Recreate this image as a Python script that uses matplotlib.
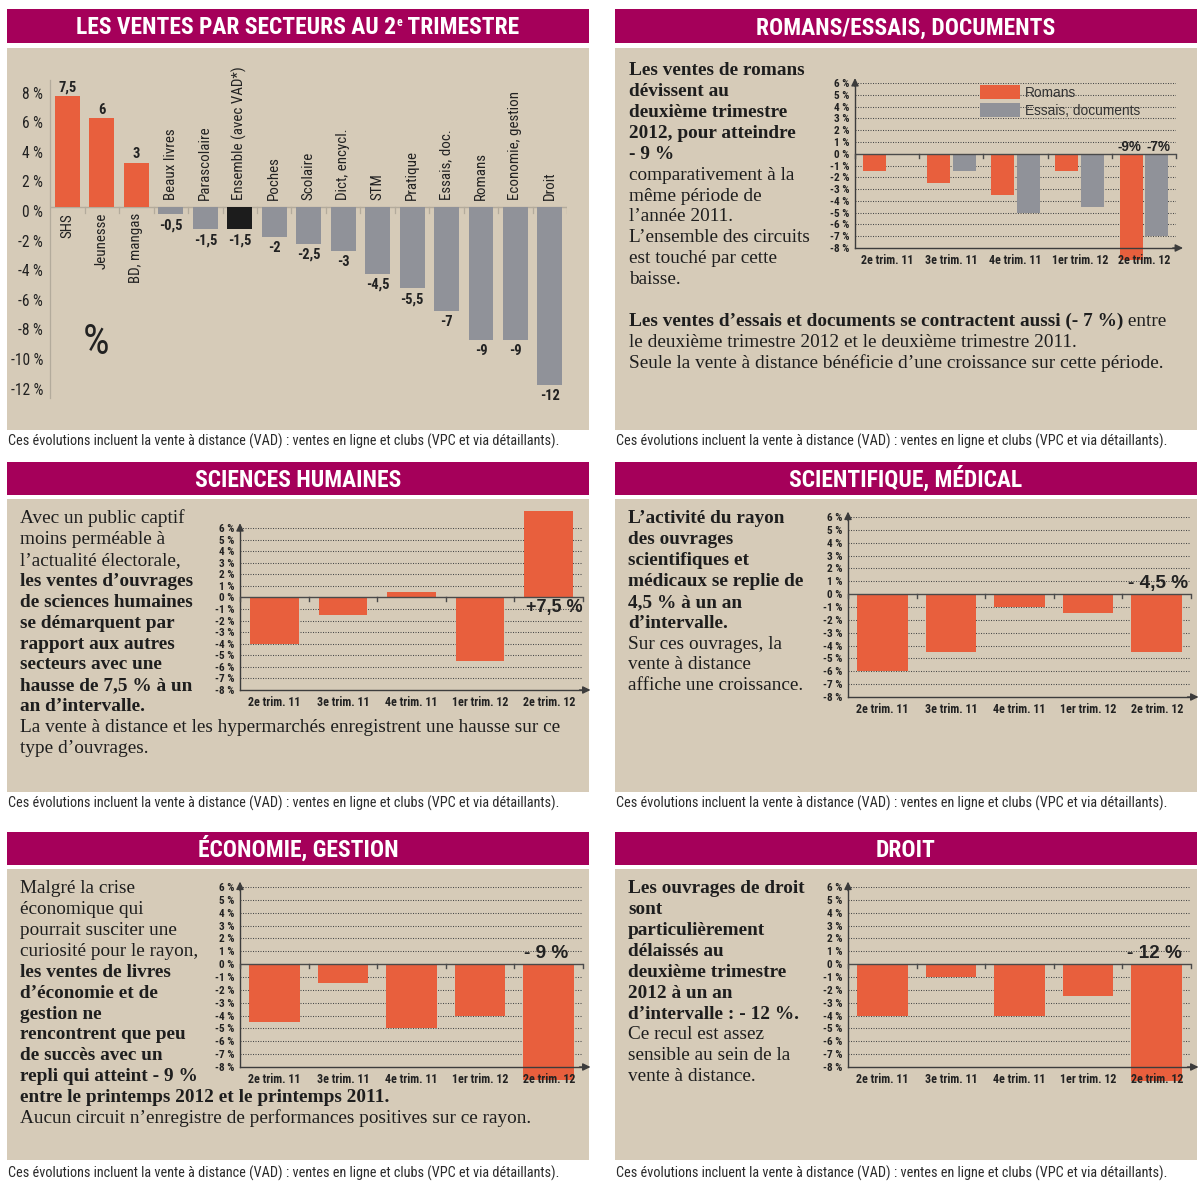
import matplotlib
matplotlib.use('Agg')
import matplotlib.pyplot as plt
import matplotlib.transforms as mtransforms
from matplotlib import font_manager
from matplotlib.patches import Rectangle, Patch

W, H = 1200, 1185
fig = plt.figure(figsize=(W / 100, H / 100), dpi=100)
fig.patch.set_facecolor('white')

_names = {f.name for f in font_manager.fontManager.ttflist}


def pick(cands, default='DejaVu Sans'):
    for c in cands:
        if c in _names:
            return c
    return default


COND = pick(['Liberation Sans Narrow', 'Roboto Condensed', 'DejaVu Sans Condensed', 'Open Sans Condensed'])
SANS = pick(['Liberation Sans', 'Arial', 'DejaVu Sans'])
SERIF = pick(['Liberation Serif', 'DejaVu Serif'])

MAGENTA = '#a5005a'
BEIGE = '#d6cbb8'
ORANGE = '#e85f3d'
GRAY = '#909299'
BLACK = '#1c1c1c'
INK = '#222222'

# ---------------- data ----------------
sectors = ['SHS', 'Jeunesse', 'BD, mangas', 'Beaux livres', 'Parascolaire',
           'Ensemble (avec VAD*)', 'Poches', 'Scolaire', 'Dict, encycl.', 'STM',
           'Pratique', 'Essais, doc.', 'Romans', 'Economie, gestion', 'Droit']
sector_values = [7.5, 6, 3, -0.5, -1.5, -1.5, -2, -2.5, -3, -4.5, -5.5, -7, -9, -9, -12]
main_yticks = [8, 6, 4, 2, 0, -2, -4, -6, -8, -10, -12]

quarters = ['2e trim. 11', '3e trim. 11', '4e trim. 11', '1er trim. 12', '2e trim. 12']
small_yticks = [6, 5, 4, 3, 2, 1, 0, -1, -2, -3, -4, -5, -6, -7, -8]
romans = [-1.5, -2.5, -3.5, -1.5, -9]
essais_documents = [0, -1.5, -5, -4.5, -7]
sciences_humaines = [-4, -1.5, 0.5, -5.5, 7.5]
scientifique_medical = [-6, -4.5, -1, -1.5, -4.5]
economie_gestion = [-4.5, -1.5, -5, -4, -9]
droit = [-4, -1, -4, -2.5, -12]

FOOTNOTE = 'Ces évolutions incluent la vente à distance (VAD) : ventes en ligne et clubs (VPC et via détaillants).'

# ---------------- canvas in pixel coords ----------------
bg = fig.add_axes([0, 0, 1, 1])
bg.set_xlim(0, W)
bg.set_ylim(H, 0)
bg.axis('off')
renderer = fig.canvas.get_renderer()


def pt(px):
    return px * 72.0 / 100.0


def seg_line(x, yc, segs, family, color=INK, center=False, k=0.33):
    """segs: list of (text, weight, size_px, dy_px)"""
    texts = []
    for s, w, size, dy in segs:
        t = bg.text(0, yc + k * segs[0][2] + dy, s, fontsize=pt(size), family=family,
                    fontweight=w, color=color, ha='left', va='baseline', zorder=5)
        texts.append(t)
    widths = [t.get_window_extent(renderer).width for t in texts]
    cx = x - sum(widths) / 2.0 if center else x
    for t, wd in zip(texts, widths):
        t.set_x(cx)
        cx += wd
    return texts


def px_axes(x0, y0, x1, y1):
    return fig.add_axes([x0 / W, 1 - y1 / H, (x1 - x0) / W, (y1 - y0) / H])


# ---------------- panels (header, background, footnote) ----------------
COLS = [(7, 589), (615, 1197)]
ROWS = [(9, 43, 48, 430, 441), (462, 495, 499, 792, 803), (832, 865, 869, 1160, 1173)]
TITLES = [[None, 'ROMANS/ESSAIS, DOCUMENTS'],
          ['SCIENCES HUMAINES', 'SCIENTIFIQUE, MÉDICAL'],
          ['ÉCONOMIE, GESTION', 'DROIT']]
TSIZE = 23.5
for r, (hy0, hy1, by0, by1, fy) in enumerate(ROWS):
    for c, (x0, x1) in enumerate(COLS):
        bg.add_patch(Rectangle((x0, hy0), x1 - x0, hy1 - hy0, facecolor=MAGENTA, edgecolor='none', zorder=1))
        bg.add_patch(Rectangle((x0, by0), x1 - x0, by1 - by0, facecolor=BEIGE, edgecolor='none', zorder=1))
        seg_line(x0 + 1, fy, [(FOOTNOTE, 'normal', 14.3, 0)], COND, color='#2a2a2a')
        cx = (x0 + x1) / 2.0
        cy = (hy0 + hy1) / 2.0
        if r == 0 and c == 0:
            seg_line(cx, cy, [('LES VENTES PAR SECTEURS AU 2', 'bold', TSIZE, 0),
                              ('e', 'bold', TSIZE * 0.5, -TSIZE * 0.36),
                              (' TRIMESTRE', 'bold', TSIZE, 0)],
                     COND, color='white', center=True, k=0.36)
        else:
            seg_line(cx, cy, [(TITLES[r][c], 'bold', TSIZE, 0)], COND, color='white', center=True, k=0.36)

# ---------------- main chart ----------------
ZERO_PX, UNIT_PX = 207.0, 14.8
AX_TOP, AX_BOT = 80.0, 398.0
axm = px_axes(50, AX_TOP, 567, AX_BOT)
axm.set_xlim(-0.508, 14.496)
axm.set_ylim(-(AX_BOT - ZERO_PX) / UNIT_PX, (ZERO_PX - AX_TOP) / UNIT_PX)
axm.patch.set_visible(False)
for s in ['top', 'right', 'bottom']:
    axm.spines[s].set_visible(False)
axm.spines['left'].set_color('#b3ab9c')
axm.spines['left'].set_linewidth(0.9)
axm.axhline(0, color='#b3ab9c', lw=1.0, zorder=1)
for b in range(len(sectors)):
    axm.plot([b + 0.5, b + 0.5], [0, -0.4], color='#b3ab9c', lw=0.9, zorder=1)

xs = list(range(len(sectors)))
colors = [BLACK if name.startswith('Ensemble') else (ORANGE if v > 0 else GRAY)
          for name, v in zip(sectors, sector_values)]
axm.bar(xs, sector_values, 0.725, color=colors, zorder=2)

axm.set_yticks(main_yticks)
axm.set_yticklabels([f'{v} %' for v in main_yticks])
axm.set_xticks([])
axm.tick_params(axis='y', length=0, pad=5, labelsize=pt(15.5), labelcolor=INK)
off = mtransforms.ScaledTranslation(0, -4 / 100.0, fig.dpi_scale_trans)
for lbl in axm.get_yticklabels():
    lbl.set_fontfamily(COND)
    lbl.set_transform(lbl.get_transform() + off)

for i, (name, v) in enumerate(zip(sectors, sector_values)):
    lab = f'{v:g}'.replace('.', ',')
    if v > 0:
        axm.annotate(lab, (i, v), xytext=(0, 1.5), textcoords='offset pixels', ha='center', va='bottom',
                     fontsize=pt(14.5), fontweight='bold', family=COND, color=INK)
        axm.annotate(name, (i, 0), xytext=(0, -6), textcoords='offset pixels', ha='center', va='top',
                     rotation=90, fontsize=pt(15), family=COND, color=INK)
    else:
        axm.annotate(lab, (i, v), xytext=(0, -4), textcoords='offset pixels', ha='center', va='top',
                     fontsize=pt(14.5), fontweight='bold', family=COND, color=INK)
        axm.annotate(name, (i, 0), xytext=(0, 7), textcoords='offset pixels', ha='center', va='bottom',
                     rotation=90, fontsize=pt(15), family=COND, color=INK)

bg.text(96, 342, '%', fontsize=pt(42), family=COND, color=INK, ha='center', va='center', zorder=5)


# ---------------- small charts ----------------
def small_chart(x0, x1, y6, y8, series, colors, offsets, width):
    ax = px_axes(x0, y6, x1, y8)
    ax.set_xlim(-0.5, 4.5)
    ax.set_ylim(-8, 6)
    ax.patch.set_visible(False)
    ax.set_axisbelow(False)
    for s in ['top', 'right']:
        ax.spines[s].set_visible(False)
    for s in ['left', 'bottom']:
        ax.spines[s].set_color('#3c3c3c')
        ax.spines[s].set_linewidth(1.0)
    for v in small_yticks:
        if v not in (0, -8):
            ax.axhline(v, color='#4a4a4a', lw=0.75, ls=(0, (1, 1.4)), zorder=1)
    ax.axhline(0, color='#4a4a4a', lw=1.0, zorder=3)
    for b in range(6):
        ax.plot([b - 0.5, b - 0.5], [0, -0.33], color='#4a4a4a', lw=1.0, zorder=3, clip_on=False)
    clip = Rectangle((-0.6, -9.1), 5.2, 17.5, transform=ax.transData)
    for vals, col, o in zip(series, colors, offsets):
        bars = ax.bar([i + o for i in range(5)], vals, width, color=col, zorder=2)
        for bar in bars:
            bar.set_clip_path(clip)
    ax.set_yticks(small_yticks)
    ax.set_yticklabels([f'{v} %' for v in small_yticks])
    ax.set_xticks(range(5))
    ax.set_xticklabels(quarters)
    ax.tick_params(axis='both', length=0, labelcolor=INK)
    ax.tick_params(axis='y', pad=4, labelsize=pt(11.3))
    ax.tick_params(axis='x', pad=4, labelsize=pt(12))
    for lbl in ax.get_xticklabels() + ax.get_yticklabels():
        lbl.set_fontfamily(COND)
        lbl.set_fontweight('bold')
    aw = dict(arrowstyle='-|>,head_length=0.45,head_width=0.22', color='#3c3c3c', lw=1.0,
              shrinkA=0, shrinkB=0)
    ax.annotate('', xy=(0, 1.03), xytext=(0, 0.98), xycoords='axes fraction', arrowprops=aw)
    ax.annotate('', xy=(1.022, 0), xytext=(0.99, 0), xycoords='axes fraction', arrowprops=aw)
    return ax


# Romans / Essais
ax2 = small_chart(855, 1176, 83, 248, [romans, essais_documents], [ORANGE, GRAY], [-0.2, 0.2], 0.36)
for o, vals, dx in [(-0.2, romans, -2), (0.2, essais_documents, 2)]:
    ax2.annotate(f'{vals[-1]:g}%', (4 + o, 0), xytext=(dx, 7), textcoords='offset pixels',
                 ha='center', va='center', fontsize=pt(13.5), fontweight='bold', family=SANS, color=INK)
ax2.legend(handles=[Patch(facecolor=ORANGE, edgecolor='none', label='Romans'),
                    Patch(facecolor=GRAY, edgecolor='none', label='Essais, documents')],
           loc='upper left', bbox_to_anchor=(980 / W, 1 - 85 / H), bbox_transform=fig.transFigure,
           frameon=False, prop=dict(family=SANS, size=pt(13.8)), handlelength=40 / 13.8,
           handleheight=17 / 13.8, handletextpad=5 / 13.8, labelspacing=3 / 13.8, borderpad=0,
           borderaxespad=0, labelcolor='#333333')

# Sciences humaines
ax3 = small_chart(240, 583, 528, 690, [sciences_humaines], [ORANGE], [0], 0.71)
ax3.annotate(f'+{sciences_humaines[-1]:g} %'.replace('.', ','), (4, 0), xytext=(6, -10),
             textcoords='offset pixels', ha='center', va='center', fontsize=pt(18),
             fontweight='bold', family=SANS, color=INK)

# Scientifique, médical
ax4 = small_chart(848, 1191, 517, 697, [scientifique_medical], [ORANGE], [0], 0.74)
ax4.annotate(f'- {-scientifique_medical[-1]:g} %'.replace('.', ','), (4, 0), xytext=(1, 11),
             textcoords='offset pixels', ha='center', va='center', fontsize=pt(19),
             fontweight='bold', family=SANS, color=INK)

# Économie, gestion
ax5 = small_chart(240, 583, 887, 1067, [economie_gestion], [ORANGE], [0], 0.74)
ax5.annotate(f'- {-economie_gestion[-1]:g} %', (4, 0), xytext=(-3, 11),
             textcoords='offset pixels', ha='center', va='center', fontsize=pt(19),
             fontweight='bold', family=SANS, color=INK)

# Droit
ax6 = small_chart(848, 1191, 887, 1067, [droit], [ORANGE], [0], 0.74)
ax6.annotate(f'- {-droit[-1]:g} %', (4, 0), xytext=(-2, 11),
             textcoords='offset pixels', ha='center', va='center', fontsize=pt(19),
             fontweight='bold', family=SANS, color=INK)


# ---------------- paragraphs ----------------
PSIZE = 19.3


def B(s):
    return [(s, 'bold', PSIZE, 0)]


def R(s):
    return [(s, 'normal', PSIZE, 0)]


def paragraph(x, y0, lines, step=20.85):
    for i, segs in enumerate(lines):
        seg_line(x, y0 + i * step, segs, SERIF, color='#1e1e1e', k=0.28)


paragraph(629, 70, [B('Les ventes de romans'), B('dévissent au'), B('deuxième trimestre'),
                    B('2012, pour atteindre'), B('- 9 %'), R('comparativement à la'),
                    R('même période de'), R('l’année 2011.'), R('L’ensemble des circuits'),
                    R('est touché par cette'), R('baisse.')])
paragraph(629, 321, [[('Les ventes d’essais et documents se contractent aussi (- 7 %)', 'bold', PSIZE, 0),
                      (' entre', 'normal', PSIZE, 0)],
                     R('le deuxième trimestre 2012 et le deuxième trimestre 2011.'),
                     R('Seule la vente à distance bénéficie d’une croissance sur cette période.')])
paragraph(20, 518, [R('Avec un public captif'), R('moins perméable à'), R('l’actualité électorale,'),
                    B('les ventes d’ouvrages'), B('de sciences humaines'), B('se démarquent par'),
                    B('rapport aux autres'), B('secteurs avec une'), B('hausse de 7,5 % à un'),
                    B('an d’intervalle.'),
                    R('La vente à distance et les hypermarchés enregistrent une hausse sur ce'),
                    R('type d’ouvrages.')])
paragraph(628, 518, [B('L’activité du rayon'), B('des ouvrages'), B('scientifiques et'),
                     B('médicaux se replie de'), B('4,5 % à un an'), B('d’intervalle.'),
                     R('Sur ces ouvrages, la'), R('vente à distance'), R('affiche une croissance.')])
paragraph(20, 888, [R('Malgré la crise'), R('économique qui'), R('pourrait susciter une'),
                    R('curiosité pour le rayon,'), B('les ventes de livres'), B('d’économie et de'),
                    B('gestion ne'), B('rencontrent que peu'), B('de succès avec un'),
                    B('repli qui atteint - 9 %'), B('entre le printemps 2012 et le printemps 2011.'),
                    R('Aucun circuit n’enregistre de performances positives sur ce rayon.')])
paragraph(628, 888, [B('Les ouvrages de droit'), B('sont'), B('particulièrement'), B('délaissés au'),
                     B('deuxième trimestre'), B('2012 à un an'), B('d’intervalle : - 12 %.'),
                     R('Ce recul est assez'), R('sensible au sein de la'), R('vente à distance.')])

fig.savefig('out.png', dpi=100, facecolor='white')
